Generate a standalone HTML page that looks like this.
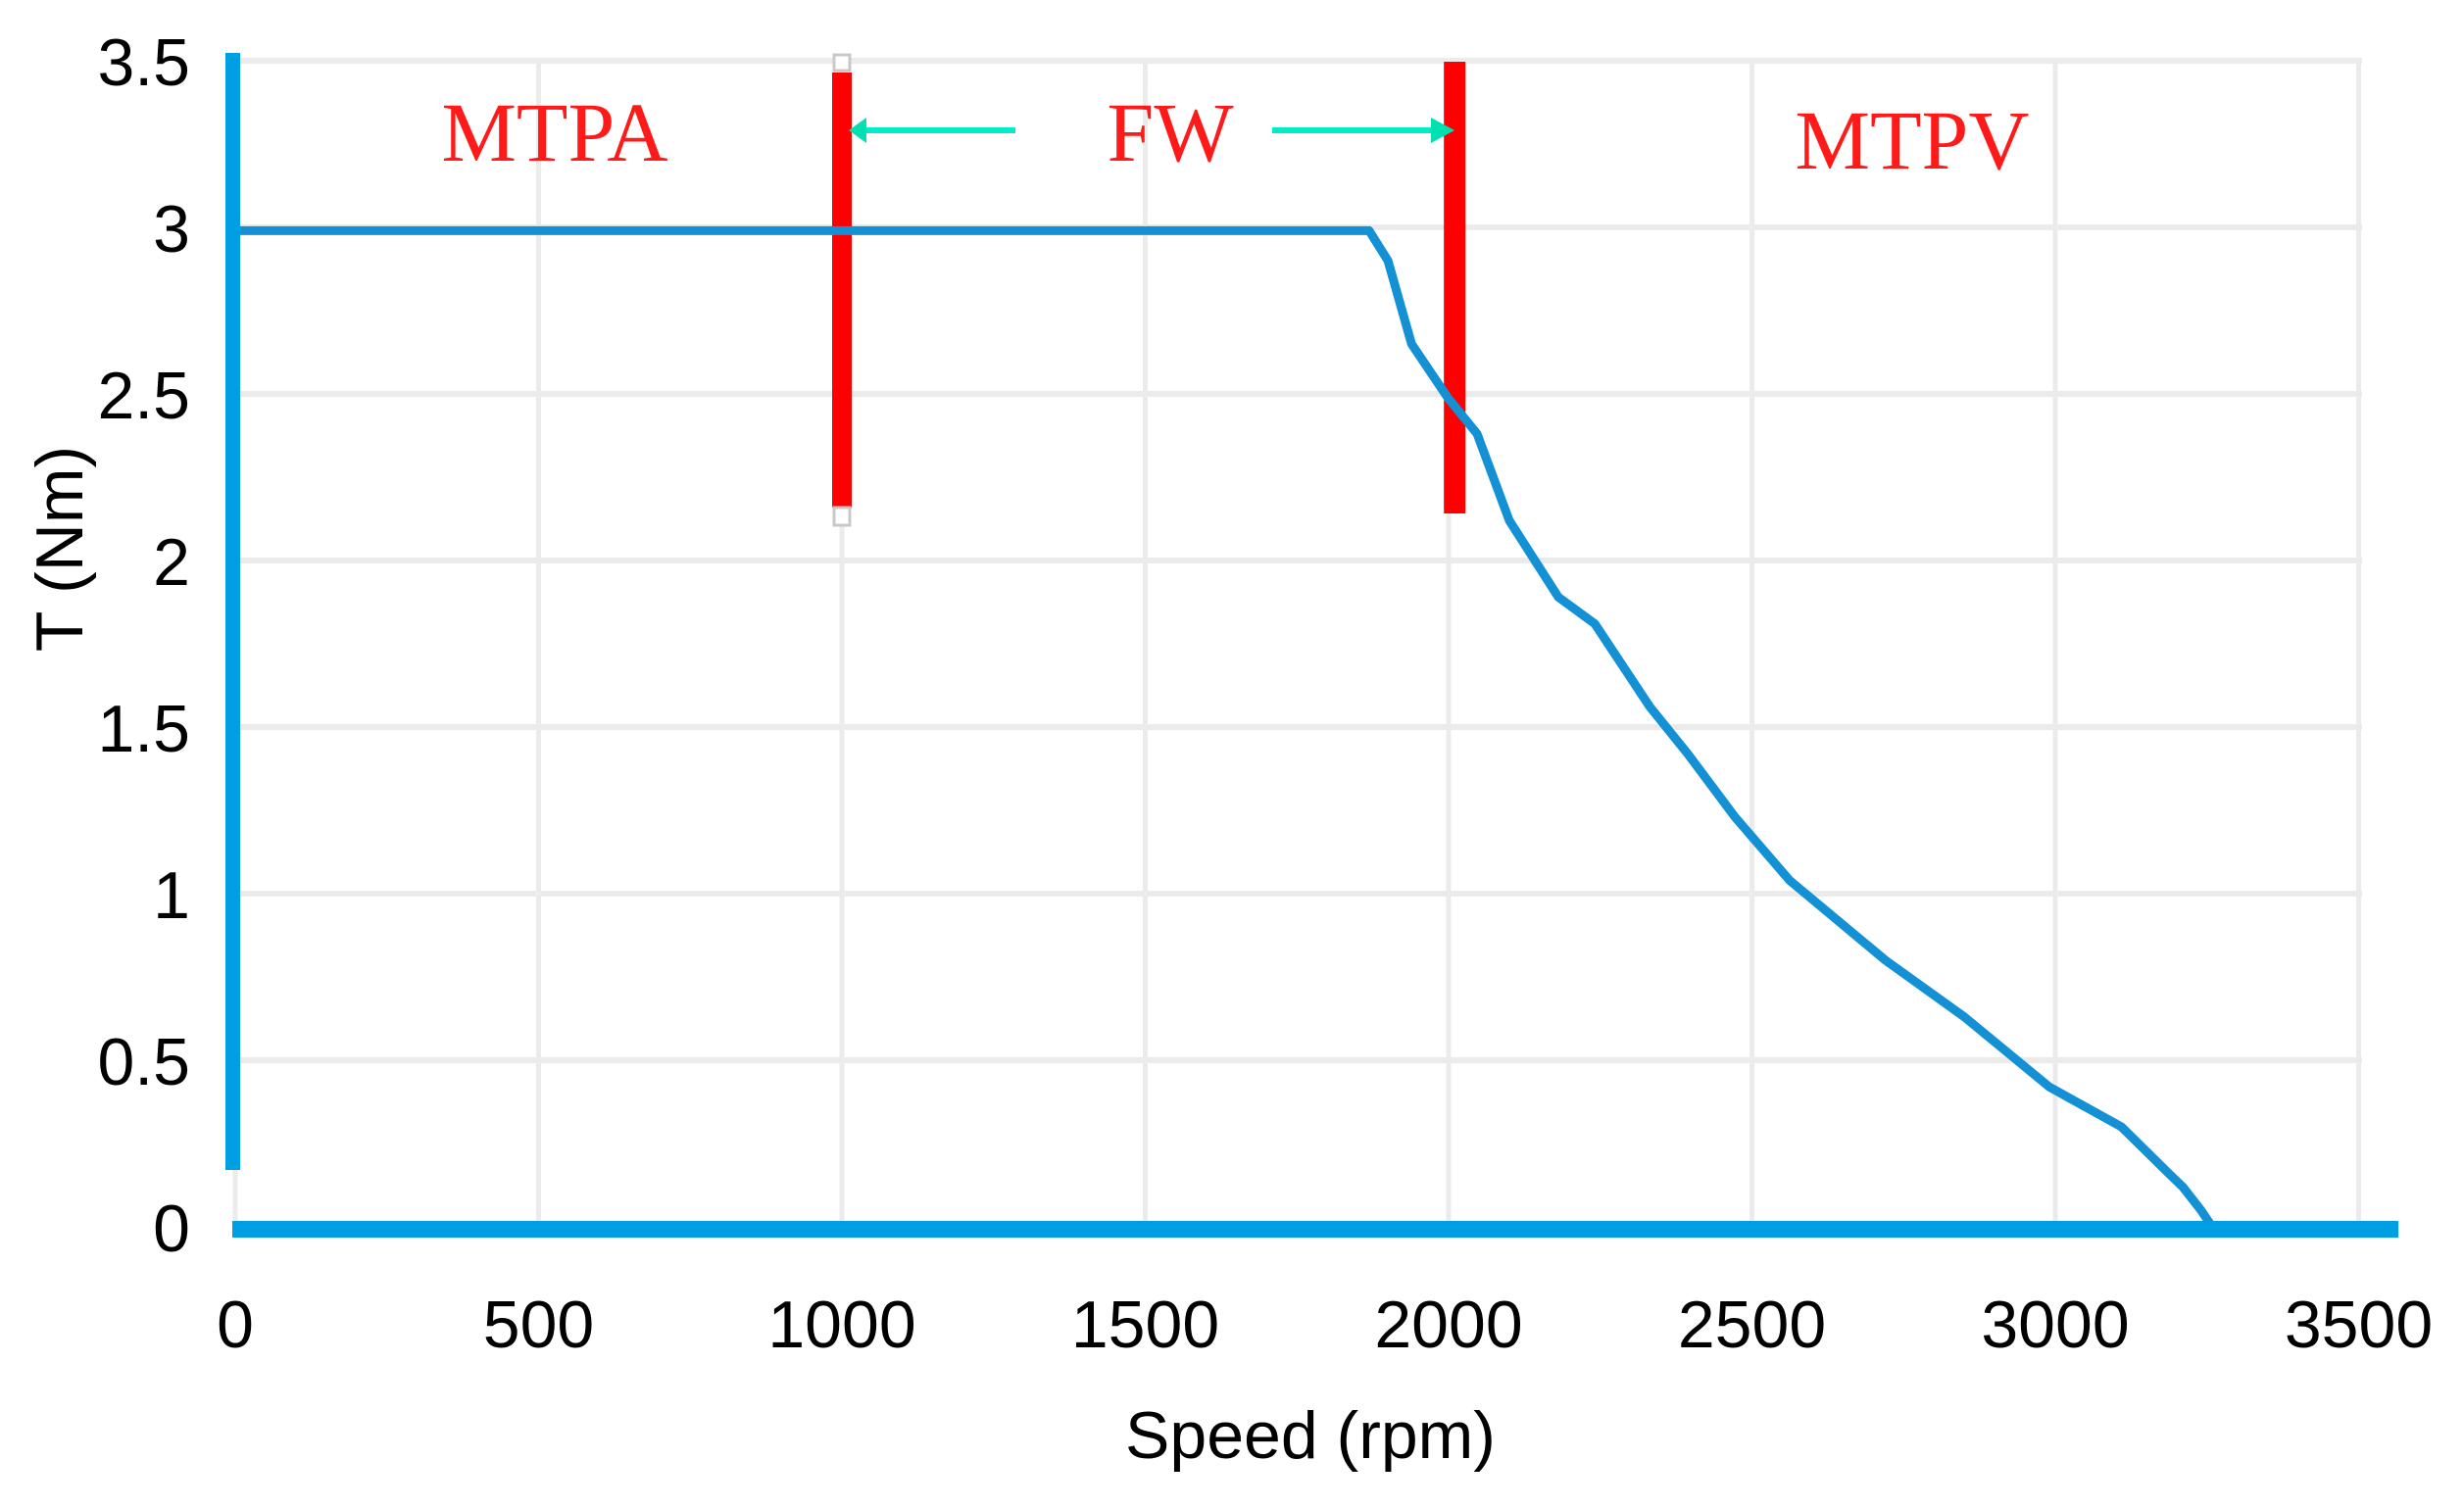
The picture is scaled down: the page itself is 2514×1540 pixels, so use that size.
<!DOCTYPE html>
<html><head><meta charset="utf-8"><style>
html,body{margin:0;padding:0;background:#fff;}
svg{display:block;}
</style></head><body>
<svg id="chart" width="2514" height="1540" viewBox="0 0 2514 1540" xmlns="http://www.w3.org/2000/svg">
<g id="grid"></g>
<g id="annot"></g>
<g id="series"></g>
<g id="axes"></g>
<text x="1337" y="1488" text-anchor="middle" font-family="Liberation Sans, sans-serif" font-size="68" fill="#000">Speed (rpm)</text>
<text transform="translate(84,560) rotate(-90)" text-anchor="middle" font-family="Liberation Sans, sans-serif" font-size="68" fill="#000">T (Nm)</text>
</svg>
<script>
const xTicks = [0, 500, 1000, 1500, 2000, 2500, 3000, 3500];
const yTicks = [0, 0.5, 1, 1.5, 2, 2.5, 3, 3.5];
const yTickLabels = ["0", "0.5", "1", "1.5", "2", "2.5", "3", "3.5"];
const speed = [0, 1000, 1869, 1900, 1939, 1998, 2047, 2100, 2181, 2241, 2332, 2394, 2472, 2562, 2720, 2850, 2990, 3109, 3187, 3210, 3240, 3255];
const torque = [2.99, 2.99, 2.99, 2.9, 2.65, 2.49, 2.38, 2.12, 1.89, 1.81, 1.56, 1.42, 1.23, 1.04, 0.8, 0.63, 0.42, 0.3, 0.16, 0.12, 0.05, 0.01];
const regionLabels = ["MTPA", "FW", "MTPV"];
const regionLabelX = [566, 1194, 1951];
const boundarySpeed = [1000, 2010];

const NS = "http://www.w3.org/2000/svg";
const X0 = 240, XS = 309.5 / 500;
const Y0 = 1252, YS = 340;
function sx(v){ return X0 + v * XS; }
function sy(v){ return Y0 - v * YS; }
function mk(tag, attrs, parent){
  const e = document.createElementNS(NS, tag);
  for (const k in attrs) e.setAttribute(k, attrs[k]);
  parent.appendChild(e);
  return e;
}
const grid = document.getElementById('grid');
const axes = document.getElementById('axes');
const series = document.getElementById('series');
const annot = document.getElementById('annot');

yTicks.forEach((v, i) => {
  const l = mk('line', {x1: 240, x2: 2410, y1: sy(v), y2: sy(v), stroke: '#ebebeb', 'stroke-width': 6}, grid);
  
  
  const t = mk('text', {x: 194, y: sy(v) + 25, 'text-anchor': 'end', 'font-family': 'Liberation Sans, sans-serif', 'font-size': 68, fill: '#000'}, axes);
  t.textContent = yTickLabels[i];
  
  
});
xTicks.forEach(v => {
  const l = mk('line', {x1: sx(v), x2: sx(v), y1: 62, y2: 1252, stroke: '#ebebeb', 'stroke-width': 5}, grid);
  
  
  const t = mk('text', {x: sx(v), y: 1375, 'text-anchor': 'middle', 'font-family': 'Liberation Sans, sans-serif', 'font-size': 68, fill: '#000'}, axes);
  t.textContent = String(v);
  
  
});

// torque curve
let d = '';
speed.forEach((s, i) => { d += (i ? 'L' : 'M') + sx(s).toFixed(1) + ' ' + sy(torque[i]).toFixed(1) + ' '; });
const p = mk('path', {d: d, fill: 'none', stroke: '#1391d4', 'stroke-width': 9, 'stroke-linejoin': 'round'}, series);



// axes lines
const ya = mk('rect', {x: 230, y: 54, width: 15, height: 1140, fill: '#009fe3'}, axes);


const xa = mk('rect', {x: 237, y: 1246, width: 2210, height: 17, fill: '#009fe3'}, axes);



// boundary bars
const b1 = mk('rect', {x: sx(boundarySpeed[0]) - 10, y: 74, width: 20, height: 444, fill: '#ff0000'}, annot);


const c1 = mk('rect', {x: sx(boundarySpeed[0]) - 8, y: 56, width: 16, height: 16, fill: '#fff', stroke: '#c8c8c8', 'stroke-width': 3}, annot);


const c2 = mk('rect', {x: sx(boundarySpeed[0]) - 8, y: 518, width: 16, height: 18, fill: '#fff', stroke: '#c8c8c8', 'stroke-width': 3}, annot);


const b2 = mk('rect', {x: sx(boundarySpeed[1]) - 11, y: 63, width: 22, height: 461, fill: '#ff0000'}, annot);



// arrows
const a1 = mk('line', {x1: 1036, x2: 880, y1: 133, y2: 133, stroke: '#00ecc8', 'stroke-width': 6}, annot);


const h1 = mk('polygon', {points: '866,133 884,120 884,146', fill: '#00e0b0'}, annot);


const a2 = mk('line', {x1: 1298, x2: 1462, y1: 133, y2: 133, stroke: '#00ecc8', 'stroke-width': 6}, annot);


const h2 = mk('polygon', {points: '1484,133 1460,120 1460,146', fill: '#00e0b0'}, annot);



const ly = [164, 164, 172];
regionLabels.forEach((s, i) => {
  const t = mk('text', {x: regionLabelX[i], y: ly[i], 'text-anchor': 'middle', 'font-family': 'Liberation Serif, serif', 'font-size': 86, fill: '#ff1a1a'}, annot);
  t.textContent = s;
  
  
});
</script>
</body></html>
